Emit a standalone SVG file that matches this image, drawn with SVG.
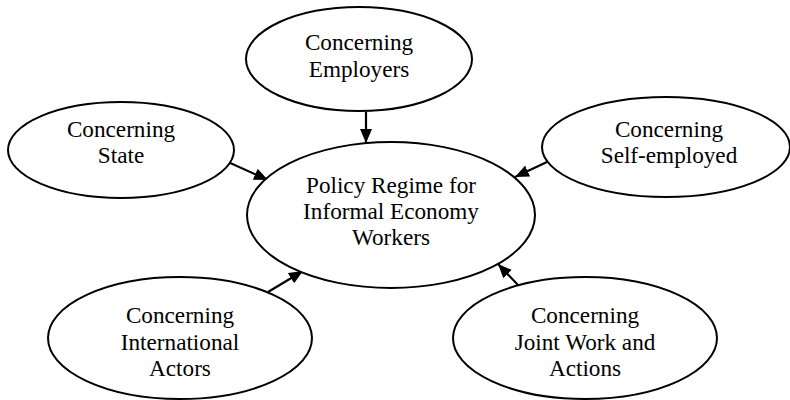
<svg xmlns="http://www.w3.org/2000/svg" width="790" height="400" viewBox="0 0 790 400">
<style>
.node ellipse{fill:#fff;stroke:#000;stroke-width:2}
.node text{font-family:'Liberation Serif','Times New Roman','DejaVu Serif',serif;font-size:23.2px;fill:#000;text-anchor:middle}
.edges line{stroke:#000;stroke-width:2.2;marker-end:url(#arr)}
</style>
<defs>
<marker id="arr" viewBox="0 0 14 12" refX="14" refY="6" markerWidth="14" markerHeight="12" orient="auto" markerUnits="userSpaceOnUse">
<path d="M0,0 L14,6 L0,12 z" fill="#000"/>
</marker>
</defs>
<rect width="790" height="400" fill="#fff"/>
<g class="edges">
<line x1="366" y1="112" x2="366" y2="143"/>
<line x1="228" y1="162" x2="268" y2="180"/>
<line x1="547" y1="162" x2="515" y2="177"/>
<line x1="268" y1="292" x2="303" y2="271"/>
<line x1="518" y1="285" x2="498" y2="264"/>
</g>
<g id="center" class="node">
<ellipse cx="391" cy="215" rx="144" ry="73"/>
<text x="391" y="193">Policy Regime for</text>
<text x="391" y="219">Informal Economy</text>
<text x="391" y="245">Workers</text>
</g>
<g id="employers" class="node">
<ellipse cx="359" cy="59" rx="113" ry="52"/>
<text x="359" y="50">Concerning</text>
<text x="359" y="77">Employers</text>
</g>
<g id="state" class="node">
<ellipse cx="121" cy="150" rx="113" ry="48"/>
<text x="121" y="137">Concerning</text>
<text x="121" y="163">State</text>
</g>
<g id="selfemployed" class="node">
<ellipse cx="666" cy="147" rx="124" ry="50"/>
<text x="669" y="137">Concerning</text>
<text x="669" y="163">Self-employed</text>
</g>
<g id="international" class="node">
<ellipse cx="180" cy="338" rx="132" ry="61"/>
<text x="180" y="323">Concerning</text>
<text x="180" y="350">International</text>
<text x="180" y="376">Actors</text>
</g>
<g id="joint" class="node">
<ellipse cx="585" cy="338" rx="132" ry="61"/>
<text x="585" y="323">Concerning</text>
<text x="585" y="350">Joint Work and</text>
<text x="585" y="376">Actions</text>
</g>
</svg>
